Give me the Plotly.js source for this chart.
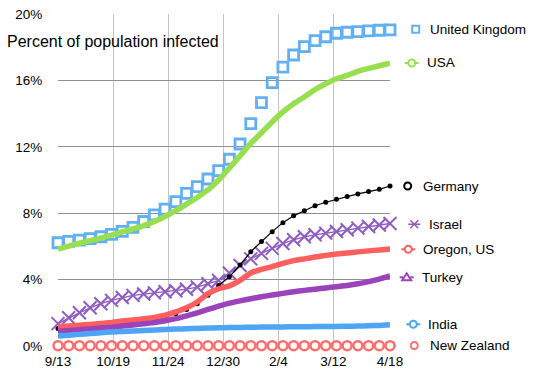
<!DOCTYPE html>
<html>
<head>
<meta charset="utf-8">
<script src="https://cdn.plot.ly/plotly-3.0.1.min.js"></script>
<style>
html,body{margin:0;padding:0;background:#fff;}
#chart{width:542px;height:371px;}
</style>
</head>
<body>
<div id="chart"></div>
<script>
// ---- data (percent of population infected, weekly) ----
const dates = ['2020-09-13','2020-09-20','2020-09-27','2020-10-04','2020-10-11','2020-10-18','2020-10-25','2020-11-01',
  '2020-11-08','2020-11-15','2020-11-22','2020-11-29','2020-12-06','2020-12-13','2020-12-20','2020-12-27',
  '2021-01-03','2021-01-10','2021-01-17','2021-01-24','2021-01-31','2021-02-07','2021-02-14','2021-02-21',
  '2021-02-28','2021-03-07','2021-03-14','2021-03-21','2021-03-28','2021-04-04','2021-04-11','2021-04-18'];
const unitedKingdom = [6.22,6.30,6.38,6.47,6.58,6.72,6.90,7.15,7.50,7.90,8.25,8.70,9.20,9.60,10.06,10.56,
  11.25,12.17,13.40,14.66,15.86,16.80,17.53,18.03,18.40,18.63,18.84,18.90,18.94,18.98,19.02,19.04];
const usa = [5.84,6.02,6.20,6.35,6.50,6.68,6.87,7.05,7.25,7.50,7.80,8.15,8.55,8.95,9.40,10.00,
  10.72,11.45,12.20,12.85,13.50,14.10,14.60,15.00,15.45,15.80,16.10,16.30,16.55,16.72,16.88,17.03];
const germany = [1.05,1.10,1.15,1.20,1.27,1.33,1.40,1.47,1.55,1.65,1.78,1.95,2.20,2.55,3.05,3.65,
  4.17,4.88,5.68,6.30,6.89,7.43,7.84,8.15,8.45,8.66,8.84,9.00,9.16,9.30,9.44,9.64];
const israel = [1.35,1.70,2.00,2.30,2.55,2.75,2.92,3.05,3.13,3.20,3.27,3.33,3.42,3.55,3.75,3.95,
  4.40,4.85,5.25,5.58,5.88,6.17,6.40,6.58,6.70,6.80,6.90,7.00,7.10,7.20,7.29,7.38];
const oregon = [1.16,1.20,1.25,1.30,1.36,1.42,1.50,1.57,1.64,1.72,1.85,2.05,2.30,2.65,3.15,3.45,
  3.62,3.95,4.40,4.62,4.78,4.98,5.14,5.25,5.36,5.46,5.54,5.60,5.67,5.73,5.79,5.84];
const turkey = [0.88,0.93,0.98,1.03,1.08,1.13,1.20,1.27,1.34,1.42,1.52,1.65,1.82,2.00,2.20,2.40,
  2.58,2.72,2.85,2.97,3.07,3.17,3.27,3.35,3.42,3.50,3.57,3.65,3.75,3.88,4.03,4.22];
const india = [0.60,0.65,0.70,0.75,0.80,0.85,0.88,0.91,0.94,0.97,1.00,1.02,1.04,1.06,1.08,1.10,
  1.11,1.12,1.13,1.14,1.15,1.15,1.16,1.16,1.17,1.17,1.18,1.19,1.20,1.22,1.24,1.28];
const newZealand = [0.02,0.02,0.02,0.02,0.02,0.02,0.02,0.02,0.02,0.02,0.02,0.02,0.02,0.02,0.02,0.02,
  0.02,0.02,0.02,0.02,0.02,0.02,0.02,0.02,0.02,0.02,0.02,0.02,0.02,0.02,0.02,0.02];
const seriesNames = ['United Kingdom','USA','Germany','Israel','Oregon, US','Turkey','India','New Zealand'];
const tickDates = ['2020-09-13','2020-10-19','2020-11-24','2020-12-30','2021-02-04','2021-03-12','2021-04-18'];
const tickLabels = ['9/13','10/19','11/24','12/30','2/4','3/12','4/18'];
const yTickVals = [0,4,8,12,16,20];
const chartTitle = 'Percent of population infected';

// ---- styles ----
const C = {
  uk:'#62B0F4', usa:'#97DF4F', germany:'#000000', israel:'#8F5CC2',
  oregon:'#FF5E5E', turkey:'#9A43BA', india:'#4EA5F5', nz:'#FF6E6E'
};
const FONT = 'Liberation Sans, Arial, Helvetica, sans-serif';

const traces = [
  {x:dates, y:unitedKingdom, name:seriesNames[0], mode:'markers', cliponaxis:false,
   marker:{symbol:'square-open', size:10, color:C.uk, line:{width:2.8, color:C.uk}}},
  {x:dates, y:usa, name:seriesNames[1], mode:'lines', cliponaxis:false,
   line:{color:C.usa, width:5.5, shape:'spline', smoothing:0.6}},
  {x:dates, y:israel, name:seriesNames[3], mode:'lines+markers', cliponaxis:false,
   line:{color:C.israel, width:1.3},
   marker:{symbol:'x-thin-open', size:13, color:C.israel, line:{width:2, color:C.israel}}},
  {x:dates, y:germany, name:seriesNames[2], mode:'lines+markers', cliponaxis:false,
   line:{color:C.germany, width:1.2},
   marker:{symbol:'circle', size:5, color:C.germany}},
  {x:dates, y:oregon, name:seriesNames[4], mode:'lines', cliponaxis:false,
   line:{color:C.oregon, width:5.5, shape:'spline', smoothing:0.5}},
  {x:dates, y:turkey, name:seriesNames[5], mode:'lines', cliponaxis:false,
   line:{color:C.turkey, width:5.5, shape:'spline', smoothing:0.5}},
  {x:dates, y:india, name:seriesNames[6], mode:'lines', cliponaxis:false,
   line:{color:C.india, width:5.5, shape:'spline', smoothing:0.5}},
  {x:dates, y:newZealand, name:seriesNames[7], mode:'markers', cliponaxis:false,
   marker:{symbol:'circle-open', size:9, color:C.nz, line:{width:2.5, color:C.nz}}}
];
traces.forEach(t => t.showlegend = false);

// ---- custom legend (icons as pixel-sized shapes, labels as annotations) ----
const L = 58, T = 14, W = 332, H = 332;
const px2x = p => (p - L) / W;
const px2y = p => (T + H - p) / H;
// [label index, icon center x, icon center y, text left x, icon kind, color]
const legendItems = [
  [0, 415.7, 29.3, 429, 'square', C.uk],
  [1, 411.7, 63, 425.5, 'circleStub', C.usa],
  [2, 407.7, 186, 421.5, 'circle', C.germany],
  [3, 414.3, 224.3, 428, 'asterisk', C.israel],
  [4, 408.3, 249.3, 422, 'circleStub', C.oregon],
  [5, 406.7, 277.3, 420.5, 'triangleStub', C.turkey],
  [6, 413.3, 324.3, 427, 'circleStub', C.india],
  [7, 414.3, 345.5, 429, 'circle', C.nz]
];
const shapes = [];
const annotations = [];
legendItems.forEach(([idx, cx, cy, tx, kind, col]) => {
  const base = {xref:'paper', yref:'paper', xsizemode:'pixel', ysizemode:'pixel',
                xanchor:px2x(cx), yanchor:px2y(cy), layer:'above'};
  const r = 3.5;
  if (kind === 'square') {
    shapes.push(Object.assign({type:'rect', x0:-r, x1:r, y0:-r, y1:r, line:{color:col, width:2}}, base));
  } else if (kind === 'circle' || kind === 'circleStub') {
    shapes.push(Object.assign({type:'circle', x0:-r, x1:r, y0:-r, y1:r, line:{color:col, width:2}}, base));
  } else if (kind === 'triangleStub') {
    shapes.push(Object.assign({type:'path', path:'M -4.5 -3 L 4.5 -3 L 0 4 Z', line:{color:col, width:2}}, base));
  } else if (kind === 'asterisk') {
    shapes.push(Object.assign({type:'path', path:'M -4 -4 L 4 4 M -4 4 L 4 -4 M -6 0 L 6 0', line:{color:col, width:1.5}}, base));
  }
  if (kind.endsWith('Stub')) {
    shapes.push(Object.assign({type:'line', x0:-7, x1:-r, y0:0, y1:0, line:{color:col, width:2}}, base));
    shapes.push(Object.assign({type:'line', x0:r, x1:7, y0:0, y1:0, line:{color:col, width:2}}, base));
  }
  annotations.push({xref:'paper', yref:'paper', x:px2x(tx), y:px2y(cy), xanchor:'left', yanchor:'middle',
    text:seriesNames[idx], showarrow:false, font:{family:FONT, size:13.5, color:'#000'}, borderpad:0});
});
annotations.push({xref:'paper', yref:'paper', x:px2x(6), y:px2y(41.7), xanchor:'left', yanchor:'middle',
  text:chartTitle, showarrow:false, font:{family:FONT, size:16, color:'#000'}, borderpad:0});

const layout = {
  width:542, height:371,
  margin:{l:L, r:542 - L - W, t:T, b:371 - T - H, pad:0},
  paper_bgcolor:'#fff', plot_bgcolor:'#fff',
  font:{family:FONT, size:13, color:'#000'},
  showlegend:false,
  xaxis:{type:'date', range:[dates[0], dates[dates.length-1]], tickmode:'array',
    tickvals:tickDates, ticktext:tickLabels, showgrid:true, gridcolor:'#c4c4c4', gridwidth:1,
    zeroline:false, showline:false, ticks:'outside', ticklen:3, tickcolor:'rgba(0,0,0,0)',
    tickfont:{family:FONT, size:13.5, color:'#000'}, fixedrange:true},
  yaxis:{range:[0,20], tickmode:'array', tickvals:yTickVals, ticktext:yTickVals.map(v => v + '%'),
    showgrid:true, gridcolor:'#8f8f8f', gridwidth:1, zeroline:false, showline:false,
    ticks:'outside', ticklen:12, tickcolor:'rgba(0,0,0,0)',
    tickfont:{family:FONT, size:13.5, color:'#000'}, fixedrange:true},
  shapes:shapes,
  annotations:annotations
};

Plotly.newPlot('chart', traces, layout, {staticPlot:true, displayModeBar:false});
</script>
</body>
</html>
